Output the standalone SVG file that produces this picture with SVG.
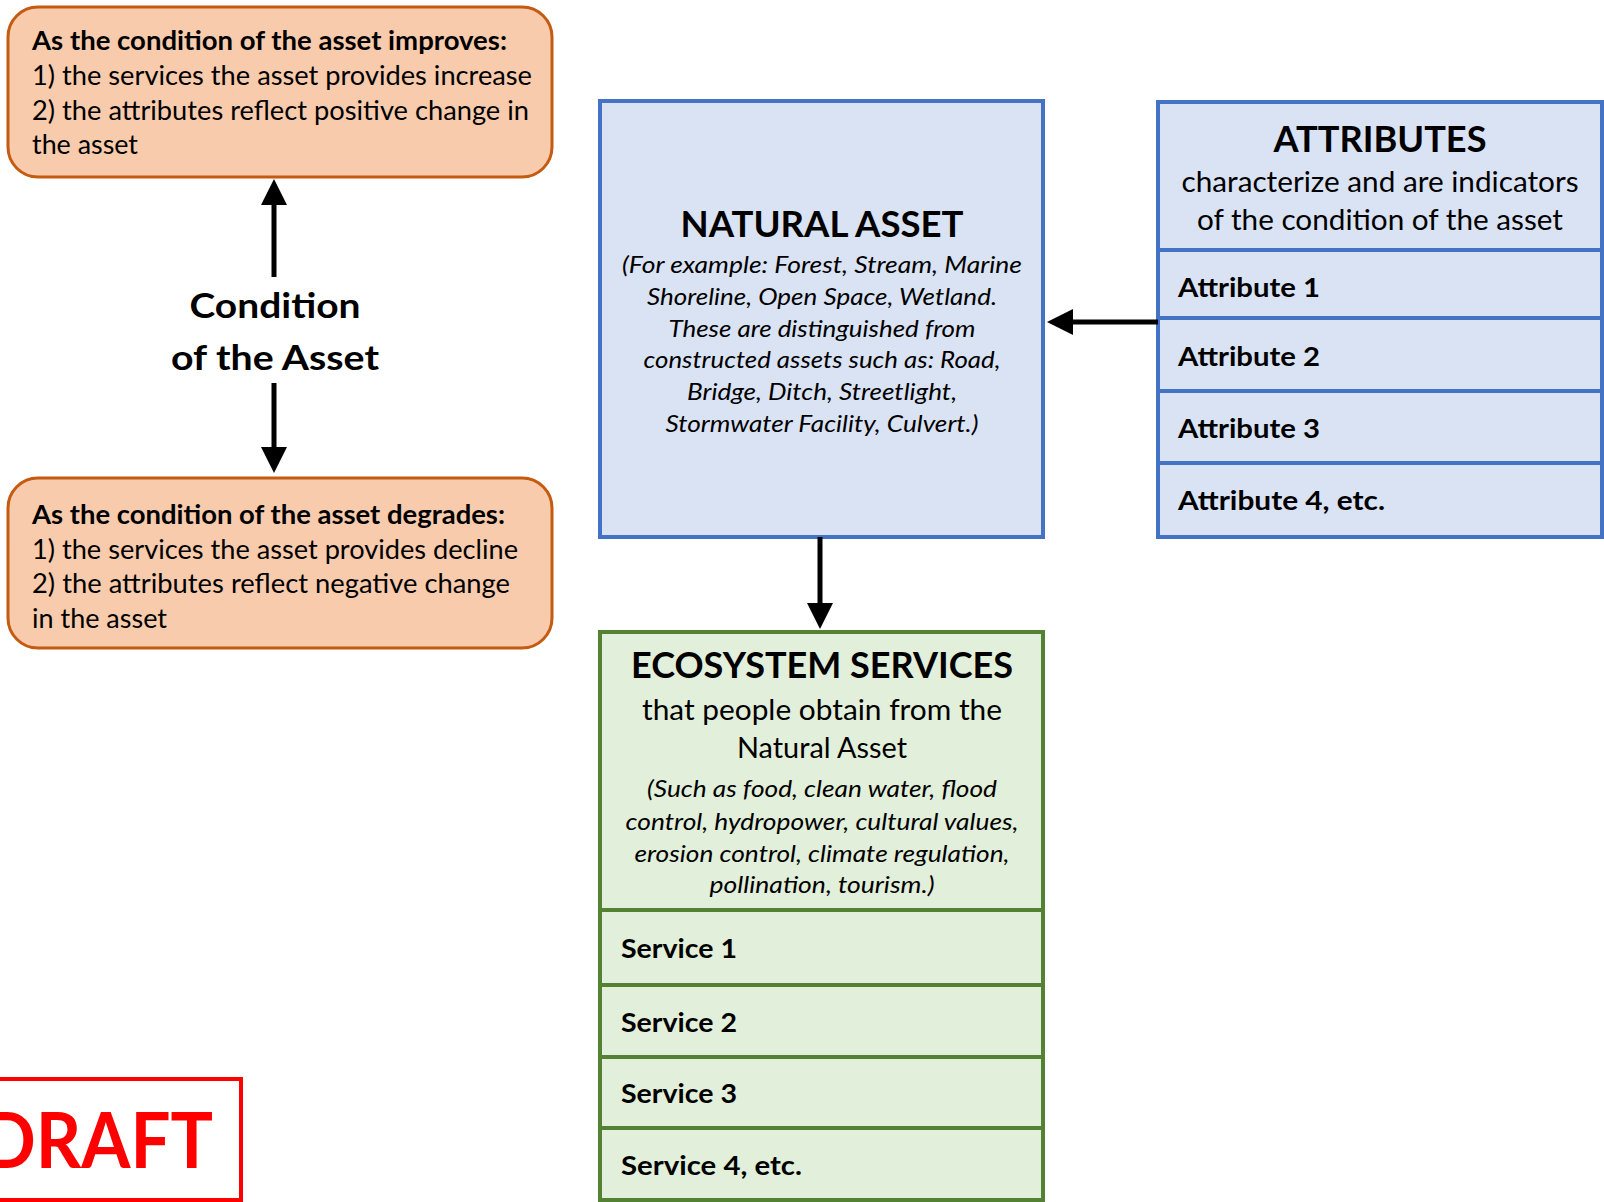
<svg xmlns="http://www.w3.org/2000/svg" width="1604" height="1202" viewBox="0 0 1604 1202">
<style>
text{font-family:Lato,"Open Sans","Liberation Sans",sans-serif;fill:#000}
.b{font-weight:bold}
.i{font-style:italic}
.or{fill:#F8CBAD;stroke:#C55A11;stroke-width:3}
.bl{fill:#DAE3F3;stroke:#4472C4;stroke-width:4}
.gr{fill:#E2EFDA;stroke:#548235;stroke-width:4}
.t26{font-size:26px}
.t24{font-size:24px}
.t28{font-size:28px}
.t27{font-size:27px;font-weight:bold}
.t35{font-size:36px;font-weight:bold}
.c{text-anchor:middle}
.conn line{stroke:#000;stroke-width:5}
</style>
<defs>
<marker id="ah" markerUnits="userSpaceOnUse" markerWidth="27" markerHeight="26" refX="1" refY="13" orient="auto">
<path d="M0,0 L26,13 L0,26 Z" fill="#000"/>
</marker>
</defs>
<rect width="1604" height="1202" fill="#fff"/>

<g id="improves">
<rect class="or" x="8" y="7" width="544" height="170" rx="30"/>
<text class="t26 b" x="32" y="50" textLength="475" lengthAdjust="spacingAndGlyphs">As the condition of the asset improves:</text>
<text class="t26" x="32" y="85" textLength="500" lengthAdjust="spacingAndGlyphs">1) the services the asset provides increase</text>
<text class="t26" x="32" y="120" textLength="497" lengthAdjust="spacingAndGlyphs">2) the attributes reflect positive change in</text>
<text class="t26" x="32" y="154" textLength="106" lengthAdjust="spacingAndGlyphs">the asset</text>
</g>

<g id="condition">
<text class="b c" style="font-size:35px" x="275" y="318" textLength="171" lengthAdjust="spacingAndGlyphs">Condition</text>
<text class="b c" style="font-size:35px" x="275" y="370" textLength="208" lengthAdjust="spacingAndGlyphs">of the Asset</text>
</g>

<g id="degrades">
<rect class="or" x="8" y="478" width="544" height="170" rx="30"/>
<text class="t26 b" x="32" y="524" textLength="473" lengthAdjust="spacingAndGlyphs">As the condition of the asset degrades:</text>
<text class="t26" x="32" y="559" textLength="486" lengthAdjust="spacingAndGlyphs">1) the services the asset provides decline</text>
<text class="t26" x="32" y="593" textLength="478" lengthAdjust="spacingAndGlyphs">2) the attributes reflect negative change</text>
<text class="t26" x="32" y="628" textLength="135" lengthAdjust="spacingAndGlyphs">in the asset</text>
</g>

<g id="natural-asset">
<rect class="bl" x="600" y="101" width="443" height="436"/>
<text class="t35 c" x="822" y="237" textLength="283" lengthAdjust="spacingAndGlyphs">NATURAL ASSET</text>
<text class="t24 i c" x="822" y="273" textLength="400" lengthAdjust="spacingAndGlyphs">(For example: Forest, Stream, Marine</text>
<text class="t24 i c" x="822" y="305" textLength="350" lengthAdjust="spacingAndGlyphs">Shoreline, Open Space, Wetland.</text>
<text class="t24 i c" x="822" y="337" textLength="307" lengthAdjust="spacingAndGlyphs">These are distinguished from</text>
<text class="t24 i c" x="822" y="368" textLength="357" lengthAdjust="spacingAndGlyphs">constructed assets such as: Road,</text>
<text class="t24 i c" x="822" y="400" textLength="270" lengthAdjust="spacingAndGlyphs">Bridge, Ditch, Streetlight,</text>
<text class="t24 i c" x="822" y="432" textLength="313" lengthAdjust="spacingAndGlyphs">Stormwater Facility, Culvert.)</text>
</g>

<g id="attributes">
<rect class="bl" x="1158" y="102" width="444" height="148"/>
<rect class="bl" x="1158" y="250" width="444" height="68"/>
<rect class="bl" x="1158" y="318" width="444" height="73"/>
<rect class="bl" x="1158" y="391" width="444" height="72"/>
<rect class="bl" x="1158" y="463" width="444" height="74"/>
<text class="t35 c" x="1380" y="152" textLength="213" lengthAdjust="spacingAndGlyphs">ATTRIBUTES</text>
<text class="t28 c" x="1380" y="192" textLength="397" lengthAdjust="spacingAndGlyphs">characterize and are indicators</text>
<text class="t28 c" x="1380" y="230" textLength="366" lengthAdjust="spacingAndGlyphs">of the condition of the asset</text>
<text class="t27" x="1178" y="297" textLength="142" lengthAdjust="spacingAndGlyphs">Attribute 1</text>
<text class="t27" x="1178" y="366" textLength="142" lengthAdjust="spacingAndGlyphs">Attribute 2</text>
<text class="t27" x="1178" y="438" textLength="142" lengthAdjust="spacingAndGlyphs">Attribute 3</text>
<text class="t27" x="1178" y="510" textLength="207" lengthAdjust="spacingAndGlyphs">Attribute 4, etc.</text>
</g>

<g id="ecosystem-services">
<rect class="gr" x="600" y="632" width="443" height="278"/>
<rect class="gr" x="600" y="910" width="443" height="75"/>
<rect class="gr" x="600" y="985" width="443" height="72"/>
<rect class="gr" x="600" y="1057" width="443" height="71"/>
<rect class="gr" x="600" y="1128" width="443" height="72"/>
<text class="t35 c" x="822" y="678" textLength="382" lengthAdjust="spacingAndGlyphs">ECOSYSTEM SERVICES</text>
<text class="t28 c" x="822" y="720" textLength="360" lengthAdjust="spacingAndGlyphs">that people obtain from the</text>
<text class="t28 c" x="822" y="758" textLength="170" lengthAdjust="spacingAndGlyphs">Natural Asset</text>
<text class="t24 i c" x="822" y="797" textLength="350" lengthAdjust="spacingAndGlyphs">(Such as food, clean water, flood</text>
<text class="t24 i c" x="822" y="830" textLength="393" lengthAdjust="spacingAndGlyphs">control, hydropower, cultural values,</text>
<text class="t24 i c" x="822" y="862" textLength="375" lengthAdjust="spacingAndGlyphs">erosion control, climate regulation,</text>
<text class="t24 i c" x="822" y="893" textLength="225" lengthAdjust="spacingAndGlyphs">pollination, tourism.)</text>
<text class="t27" x="621" y="958" textLength="116" lengthAdjust="spacingAndGlyphs">Service 1</text>
<text class="t27" x="621" y="1032" textLength="116" lengthAdjust="spacingAndGlyphs">Service 2</text>
<text class="t27" x="621" y="1103" textLength="116" lengthAdjust="spacingAndGlyphs">Service 3</text>
<text class="t27" x="621" y="1175" textLength="181" lengthAdjust="spacingAndGlyphs">Service 4, etc.</text>
</g>

<g id="draft">
<rect x="-10" y="1079" width="251" height="121" fill="#fff" stroke="#FF0000" stroke-width="4"/>
<text class="b" x="-18" y="1168" style="font-size:76px;fill:#FF0000" textLength="231" lengthAdjust="spacingAndGlyphs">DRAFT</text>
</g>

<g id="connectors" class="conn">
<line x1="274" y1="277" x2="274" y2="204" marker-end="url(#ah)"/>
<line x1="274" y1="383" x2="274" y2="448" marker-end="url(#ah)"/>
<line x1="1158" y1="322" x2="1072" y2="322" marker-end="url(#ah)"/>
<line x1="820" y1="537" x2="820" y2="604" marker-end="url(#ah)"/>
</g>
</svg>
